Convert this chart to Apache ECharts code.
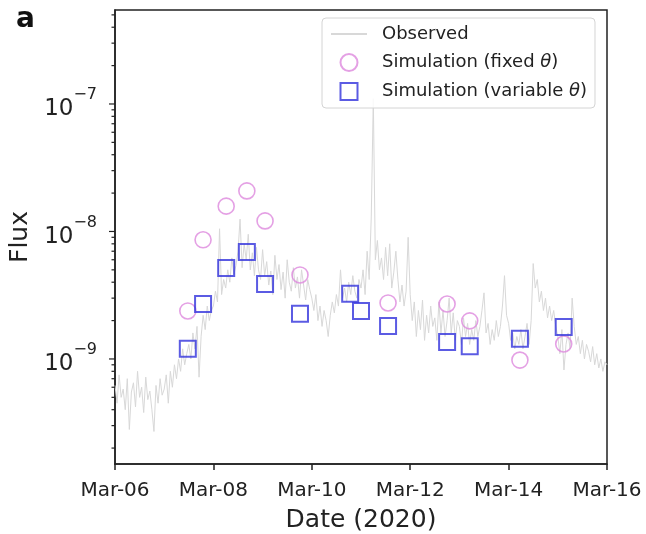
<!DOCTYPE html>
<html>
<head>
<meta charset="utf-8">
<script src="https://cdn.jsdelivr.net/npm/echarts@6/dist/echarts.min.js"></script>
<style>
  html, body { margin: 0; padding: 0; background: #fff; }
  #chart { width: 646px; height: 534px; }
</style>
</head>
<body>
<div id="chart"></div>
<script>
// x axis: days since Mar-06 2020 00:00
const xTickLabels = ['Mar-06', 'Mar-08', 'Mar-10', 'Mar-12', 'Mar-14', 'Mar-16'];
const yMajorTicks = [1e-9, 1e-8, 1e-7];
const yMinorTicks = [
  2e-10, 3e-10, 4e-10, 5e-10, 6e-10, 7e-10, 8e-10, 9e-10,
  2e-9, 3e-9, 4e-9, 5e-9, 6e-9, 7e-9, 8e-9, 9e-9,
  2e-8, 3e-8, 4e-8, 5e-8, 6e-8, 7e-8, 8e-8, 9e-8,
  2e-7, 3e-7, 4e-7, 5e-7
];

// observed flux, hourly samples from Mar-06 00:00 (units of 1e-9)
const observedNano = [
  // Mar-06
  0.62, 0.45, 0.75, 0.5, 0.58, 0.4, 0.7, 0.28, 0.55, 0.65, 0.42, 0.8, 0.5, 0.6, 0.38, 0.72, 0.48, 0.56, 0.4, 0.27, 0.62, 0.45, 0.7, 0.52,
  // Mar-07
  0.58, 0.75, 0.45, 0.8, 0.6, 0.9, 0.7, 1.0, 0.8, 1.2, 0.9, 1.1, 1.3, 1.0, 1.6, 1.2, 1.8, 0.72, 1.5, 2.2, 1.7, 2.6, 2.0, 2.4,
  // Mar-08
  2.6, 3.4, 2.8, 10.5, 3.2, 4.2, 3.6, 5.0, 4.0, 6.2, 4.6, 5.4, 7.0, 12.5, 5.2, 8.0, 6.0, 9.5, 5.0, 6.8, 4.5, 7.5, 5.0, 4.2,
  // Mar-09
  7.2, 4.5, 5.8, 3.8, 4.9, 3.2, 6.5, 4.2, 5.5, 3.5, 4.8, 3.0, 6.0, 4.0, 3.4, 5.2, 3.6, 4.4, 3.0, 5.0, 3.8, 2.9, 4.2, 3.5,
  // Mar-10
  3.0, 2.4, 3.2, 2.0, 2.6, 1.8, 2.4, 2.0, 1.5, 2.2, 2.8, 2.3, 3.2, 2.6, 5.0, 3.0, 3.6, 2.8, 4.0, 3.2, 4.5, 3.4, 3.0, 4.2,
  // Mar-11
  3.6, 5.0, 3.2, 7.0, 4.2, 13, 110, 6.0, 8.5, 5.0, 6.2, 4.2, 7.5, 4.5, 8.0, 3.6, 4.8, 7.0, 4.2, 2.8, 3.8, 2.6, 3.4, 9.0,
  // Mar-12
  3.2, 2.0, 2.8, 1.5, 2.4, 1.7, 2.9, 1.4, 2.2, 1.6, 2.6, 1.8, 2.1, 1.4, 2.8, 1.6, 2.4, 1.5, 2.0, 3.0, 1.6, 2.3, 1.4, 2.0,
  // Mar-13
  1.8, 1.3, 2.1, 1.5, 1.9, 1.3, 1.7, 1.4, 2.0, 1.5, 1.8, 2.4, 3.3, 1.6, 1.9, 1.3, 1.7, 1.4, 2.0, 1.5, 1.8, 2.6, 4.5, 2.2,
  // Mar-14
  1.9, 1.4, 1.6, 1.2, 1.5, 1.3, 1.7, 1.2, 1.5, 1.9, 1.3, 2.0, 5.6, 3.6, 4.2, 2.8, 3.4, 2.4, 3.0, 2.1, 2.6, 2.0, 2.4, 1.8,
  // Mar-15
  1.5, 1.1, 1.7, 0.82, 1.3, 1.6, 1.2, 3.0, 1.8, 1.3, 1.5, 1.1, 1.4, 1.0, 1.3, 1.15, 0.95, 1.25, 0.9, 1.1, 0.85, 1.0, 0.8, 0.95,
  // Mar-16 00:00
  0.9
];

const fixedDays = [1.48, 1.79, 2.26, 2.68, 3.05, 3.76, 5.55, 6.75, 7.21, 8.23, 9.12];
const fixedFlux = [2.38e-9, 8.6e-9, 1.58e-8, 2.08e-8, 1.21e-8, 4.56e-9, 2.75e-9, 2.7e-9, 1.99e-9, 0.98e-9, 1.31e-9];

const variableDays = [1.48, 1.79, 2.26, 2.68, 3.05, 3.76, 4.78, 5.0, 5.55, 6.75, 7.21, 8.23, 9.12];
const variableFlux = [1.2e-9, 2.7e-9, 5.18e-9, 6.9e-9, 3.87e-9, 2.26e-9, 3.24e-9, 2.38e-9, 1.81e-9, 1.36e-9, 1.26e-9, 1.44e-9, 1.78e-9];

const font = 'DejaVu Sans';
const ink = '#222';
const squarePath = 'path://M0,0H10V10H0Z';

const chart = echarts.init(document.getElementById('chart'));

// tick marks on the log axis (major + minor at 2..9 x 10^k)
function tickSeries(values, len) {
  return {
    type: 'custom',
    silent: true,
    clip: false,
    data: values.map(v => [0, v]),
    renderItem: (params, api) => {
      const p = api.coord([0, api.value(1)]);
      return {
        type: 'line',
        shape: { x1: p[0] - len, y1: p[1], x2: p[0], y2: p[1] },
        style: { stroke: ink, lineWidth: 1.2 }
      };
    },
    z: 5
  };
}

const option = {
  animation: false,
  backgroundColor: '#fff',
  textStyle: { fontFamily: font },
  grid: {
    left: 115, right: 39, top: 10, bottom: 70,
    outerBoundsMode: 'none',
    show: true, borderColor: ink, borderWidth: 1.5, backgroundColor: 'transparent'
  },
  graphic: [
    {
      type: 'text', left: 16, top: 6,
      style: { text: 'a', font: 'bold 28px "DejaVu Sans"', fill: '#111' }
    }
  ],
  legend: {
    orient: 'vertical',
    left: 322, top: 18,
    padding: [7, 8, 7, 8],
    itemWidth: 36, itemHeight: 17, itemGap: 10,
    backgroundColor: 'rgba(255,255,255,0.85)',
    borderColor: '#d4d4d4', borderWidth: 1, borderRadius: 4,
    data: [
      { name: 'Observed', itemStyle: { opacity: 0, borderWidth: 0 } },
      'Simulation (fixed θ)',
      'Simulation (variable θ)'
    ],
    formatter: name => name.replace('θ', '{i|θ}'),
    textStyle: {
      fontFamily: font, fontSize: 18, color: ink, padding: [0, 0, 0, 10],
      rich: { i: { fontFamily: font, fontSize: 18, fontStyle: 'italic', color: ink } }
    }
  },
  xAxis: {
    type: 'value',
    min: 0, max: 10, interval: 2,
    name: 'Date (2020)',
    nameLocation: 'middle', nameGap: 44,
    nameTextStyle: { fontFamily: font, fontSize: 25, color: ink },
    axisLine: { show: true, lineStyle: { color: ink, width: 1.5 } },
    axisTick: { show: true, inside: false, length: 6, lineStyle: { color: ink, width: 1.5 } },
    axisLabel: {
      margin: 17, fontFamily: font, fontSize: 20, color: ink,
      formatter: v => xTickLabels[Math.round(v / 2)]
    },
    splitLine: { show: false }
  },
  yAxis: {
    type: 'log', logBase: 10,
    min: 1.5e-10, max: 5.46e-7,
    name: 'Flux',
    nameLocation: 'middle', nameGap: 80, nameRotate: 90,
    nameTextStyle: { fontFamily: font, fontSize: 25, color: ink },
    axisLine: { show: true, lineStyle: { color: ink, width: 1.5 } },
    axisTick: { show: false },
    axisLabel: {
      margin: 18,
      formatter: v => {
        const lg = Math.log10(v);
        const e = Math.round(lg);
        if (Math.abs(lg - e) > 1e-6) return '';
        return '{b|10}{e|' + (e < 0 ? '\u2212' : '') + Math.abs(e) + '}';
      },
      rich: {
        b: { fontFamily: font, fontSize: 23, color: ink, lineHeight: 34, verticalAlign: 'bottom' },
        e: { fontFamily: font, fontSize: 16, color: ink, lineHeight: 34, verticalAlign: 'top' }
      }
    },
    splitLine: { show: false }
  },
  series: [
    {
      name: 'Observed',
      type: 'line',
      symbol: 'none',
      data: observedNano.map((v, i) => [i / 24, v * 1e-9]),
      lineStyle: { color: '#d8d8d8', width: 1 },
      itemStyle: { color: '#d8d8d8' },
      z: 1
    },
    {
      name: 'Simulation (fixed θ)',
      type: 'scatter',
      symbol: 'circle',
      symbolSize: 16,
      data: fixedDays.map((d, i) => [d, fixedFlux[i]]),
      itemStyle: { color: 'rgba(0,0,0,0)', borderColor: '#dd88dd', borderWidth: 1.6 },
      z: 3
    },
    {
      name: 'Simulation (variable θ)',
      type: 'scatter',
      symbol: squarePath,
      symbolKeepAspect: true,
      symbolSize: 16,
      data: variableDays.map((d, i) => [d, variableFlux[i]]),
      itemStyle: { color: 'rgba(0,0,0,0)', borderColor: '#3232dc', borderWidth: 2 },
      z: 4
    },
    tickSeries(yMajorTicks, 6),
    tickSeries(yMinorTicks, 3.5)
  ]
};

chart.setOption(option);
</script>
</body>
</html>
